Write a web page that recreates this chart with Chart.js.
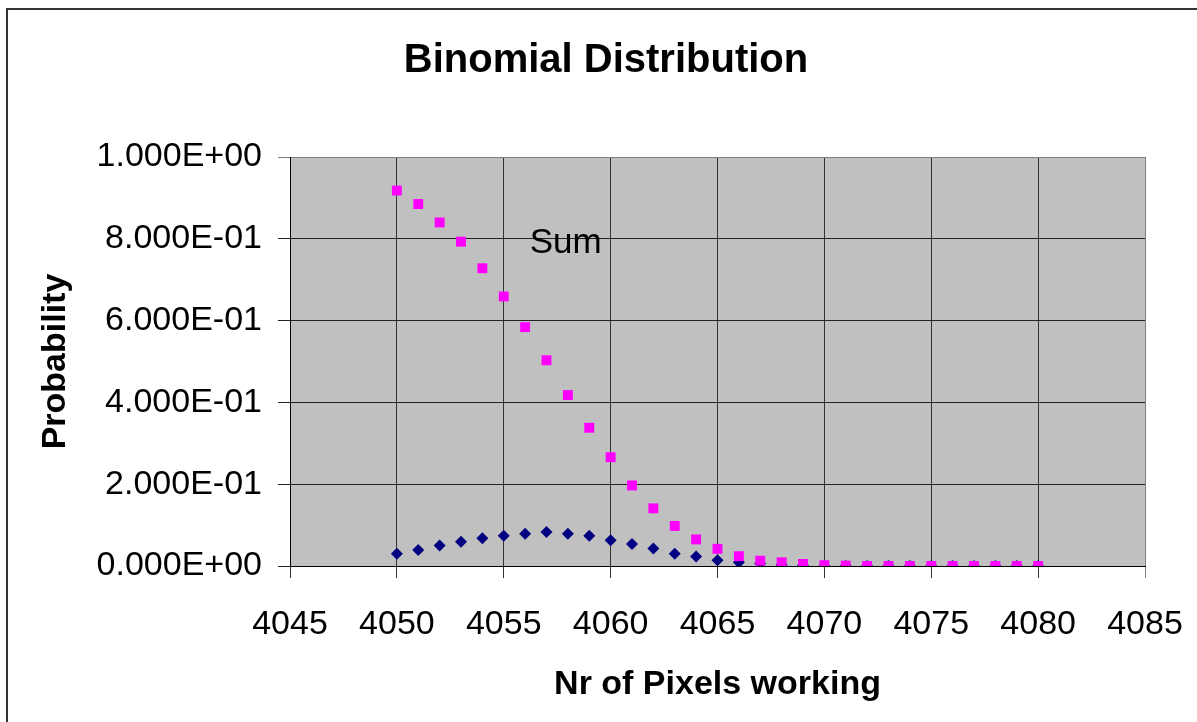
<!DOCTYPE html>
<html>
<head>
<meta charset="utf-8">
<script src="https://cdn.jsdelivr.net/npm/chart.js@4/dist/chart.umd.min.js"></script>
<style>
  body { margin: 0; background: #fff; }
  #wrap { position: relative; width: 1197px; height: 722px; overflow: hidden; }
  #frame { position: absolute; left: 6px; top: 8px; width: 1300px; height: 800px;
           border-left: 2px solid #333; border-top: 2px solid #333; }
  canvas { position: absolute; left: 0; top: 0; }
</style>
</head>
<body>
<div id="wrap">
  <div id="frame"></div>
  <canvas id="binomial-chart" width="1197" height="722"></canvas>
</div>
<script>
// Binomial distribution of working pixels, point probability and cumulative sum

const pixelsWorking = [4050, 4051, 4052, 4053, 4054, 4055, 4056, 4057, 4058, 4059,
    4060, 4061, 4062, 4063, 4064, 4065, 4066, 4067, 4068, 4069,
    4070, 4071, 4072, 4073, 4074, 4075, 4076, 4077, 4078, 4079, 4080];

const sumValues = [0.918, 0.885, 0.840, 0.793, 0.728, 0.659, 0.584, 0.503, 0.418, 0.338,
    0.266, 0.197, 0.141, 0.098, 0.065, 0.042, 0.024, 0.013, 0.009, 0.005,
    0.002, 0.001, 0, 0, 0, 0, 0, 0, 0, 0, 0];

const probValues = [0.030, 0.039, 0.050, 0.059, 0.068, 0.074, 0.079, 0.083, 0.079, 0.074,
    0.063, 0.054, 0.043, 0.030, 0.023, 0.014, 0.009, 0.006, 0.003, 0.001,
    0, 0, 0, 0, 0, 0, 0, 0, 0, 0, 0];

const xTicks = [4045, 4050, 4055, 4060, 4065, 4070, 4075, 4080, 4085];
const yTicks = [0, 0.2, 0.4, 0.6, 0.8, 1.0];

const FONT = 'Liberation Sans, Arial, sans-serif';

function sciLabel(v) {
    // Excel style 0.000E+00
    if (v === 0) return '0.000E+00';
    const exp = Math.floor(Math.log10(Math.abs(v)) + 1e-9);
    const mant = v / Math.pow(10, exp);
    const sign = exp < 0 ? '-' : '+';
    return mant.toFixed(3) + 'E' + sign + String(Math.abs(exp)).padStart(2, '0');
}

// gray plot area like the spreadsheet chart
const plotBackground = {
    id: 'plotBackground',
    beforeDraw(chart) {
        const { ctx, chartArea } = chart;
        ctx.save();
        ctx.fillStyle = '#c0c0c0';
        ctx.fillRect(chartArea.left, chartArea.top, chartArea.right - chartArea.left, chartArea.bottom - chartArea.top);
        ctx.restore();
    }
};

// chart title + "Sum" text label
const chartTexts = {
    id: 'chartTexts',
    afterDatasetsDraw(chart) {
        const { ctx, scales } = chart;
        ctx.save();
        ctx.fillStyle = '#000';
        ctx.textAlign = 'center';
        ctx.textBaseline = 'middle';
        ctx.font = 'bold 40px ' + FONT;
        ctx.fillText('Binomial Distribution', 606, 61);
        ctx.font = '35px ' + FONT;
        ctx.fillText('Sum', scales.x.getPixelForValue(4057.9), scales.y.getPixelForValue(0.79));
        ctx.restore();
    }
};

const ctx = document.getElementById('binomial-chart');

new Chart(ctx, {
    type: 'scatter',
    data: {
        datasets: [
            {
                label: 'Sum',
                data: pixelsWorking.map((x, i) => ({ x: x, y: sumValues[i] })),
                pointStyle: 'rect',
                pointRadius: 7,
                pointBorderWidth: 0,
                backgroundColor: '#ff00ff',
                borderColor: '#ff00ff'
            },
            {
                label: 'Probability',
                data: pixelsWorking.map((x, i) => ({ x: x, y: probValues[i] })),
                pointStyle: 'rectRot',
                pointRadius: 6,
                pointBorderWidth: 0,
                backgroundColor: '#000080',
                borderColor: '#000080'
            }
        ]
    },
    options: {
        responsive: false,
        animation: false,
        layout: { padding: { left: 0, right: 52, top: 157, bottom: 0 } },
        plugins: {
            legend: { display: false },
            tooltip: { enabled: false },
            title: { display: false }
        },
        scales: {
            x: {
                type: 'linear',
                min: xTicks[0],
                max: xTicks[xTicks.length - 1],
                afterBuildTicks: (axis) => { axis.ticks = xTicks.map(v => ({ value: v })); },
                afterFit: (axis) => {
                    axis.height = 156;
                    axis.paddingLeft = 0;
                    axis.paddingRight = 0;
                },
                border: { display: true, color: '#000', width: 1 },
                grid: {
                    color: (c) => c.tick && c.tick.value === 4085 ? '#808080' : '#333',
                    lineWidth: 1,
                    tickLength: 12,
                    drawTicks: true
                },
                ticks: {
                    color: '#000',
                    padding: 26,
                    maxRotation: 0,
                    font: { family: FONT, size: 34 },
                    callback: (v) => String(v)
                },
                title: {
                    display: true,
                    text: 'Nr of Pixels working',
                    color: '#000',
                    font: { family: FONT, size: 34, weight: 'bold' },
                    padding: { top: 0, bottom: 17 }
                }
            },
            y: {
                min: 0,
                max: 1,
                afterBuildTicks: (axis) => { axis.ticks = yTicks.map(v => ({ value: v })); },
                afterFit: (axis) => {
                    axis.width = 290;
                    axis.paddingTop = 0;
                    axis.paddingBottom = 0;
                },
                border: { display: true, color: '#000', width: 1 },
                grid: {
                    color: (c) => c.tick && c.tick.value === 1 ? '#808080' : '#222',
                    lineWidth: 1,
                    tickLength: 12,
                    drawTicks: true
                },
                ticks: {
                    color: '#000',
                    padding: 16,
                    font: { family: FONT, size: 34 },
                    callback: (v) => sciLabel(v)
                },
                title: {
                    display: true,
                    text: 'Probability',
                    color: '#000',
                    font: { family: FONT, size: 34, weight: 'bold' },
                    padding: { top: 35, bottom: 0 }
                }
            }
        }
    },
    plugins: [plotBackground, chartTexts]
});
</script>
</body>
</html>
